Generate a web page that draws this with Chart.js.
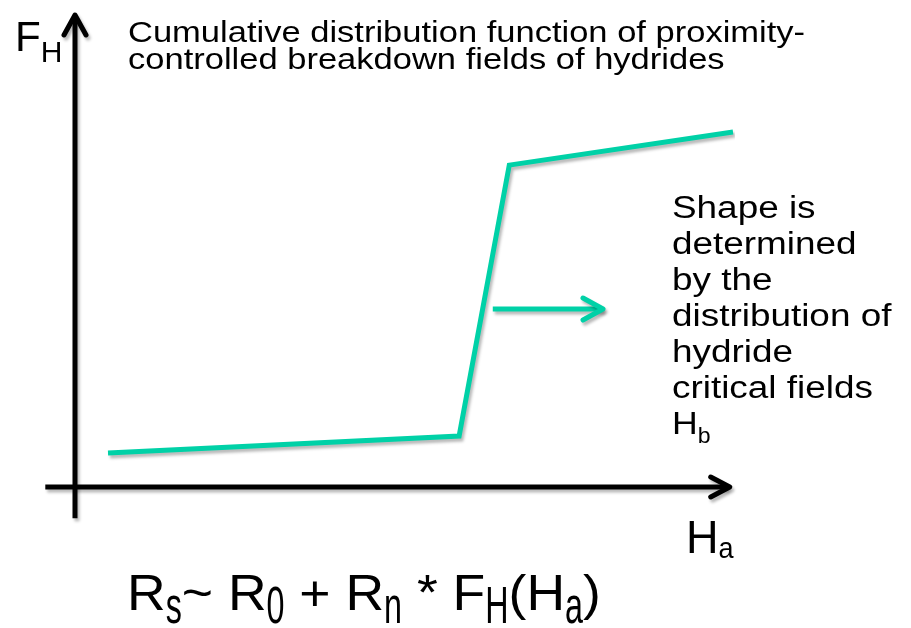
<!DOCTYPE html>
<html>
<head>
<meta charset="utf-8">
<script src="https://cdn.jsdelivr.net/npm/chart.js@4.4.1/dist/chart.umd.min.js"></script>
<style>
  html, body { margin: 0; padding: 0; background: #fff; }
  #wrap { width: 911px; height: 628px; position: relative; }
</style>
</head>
<body>
<div id="wrap"><canvas id="cdfChart" width="911" height="628"></canvas></div>
<script>
// schematic CDF, applied field H_a (arbitrary units) vs F_H (0..1)
const fieldHa = [0.5, 5.82, 6.58, 9.97];
const cdfFH = [0.072, 0.108, 0.682, 0.752];

// annotation arrow pointing to the text block
const noteArrowX = [6.33, 8.0];
const noteArrowY = [0.377, 0.377];

// axis extents in data units
const xAxisRange = [-0.45, 9.92];
const yAxisRange = [-0.066, 1.0];

const titleLines = ['Cumulative distribution function of proximity-', 'controlled breakdown fields of hydrides'];
const noteLines = ['Shape is', 'determined', 'by the', 'distribution of', 'hydride', 'critical fields'];

const teal = '#00D1A7';

function chevron(ctx, x, y, back, half) {
    ctx.beginPath();
    ctx.moveTo(x - back, y - half);
    ctx.lineTo(x, y);
    ctx.lineTo(x - back, y + half);
    ctx.stroke();
}

function shadowOn(ctx) {
    ctx.shadowColor = 'rgba(0,0,0,0.28)';
    ctx.shadowBlur = 3;
    ctx.shadowOffsetX = 2;
    ctx.shadowOffsetY = 3;
}

// pieces: [text, size, dy, sx, sy] drawn one after another from (x, y)
function drawRun(ctx, x, y, pieces) {
    let cx = x;
    pieces.forEach(p => {
        const sx = p[3] || 1, sy = p[4] || 1;
        ctx.save();
        ctx.font = p[1] + 'px "Liberation Sans", Arial, sans-serif';
        ctx.translate(cx, y + (p[2] || 0));
        ctx.scale(sx, sy);
        ctx.fillText(p[0], 0, 0);
        cx += ctx.measureText(p[0]).width * sx;
        ctx.restore();
    });
}

const axesPlugin = {
    id: 'schematicAxes',
    beforeDatasetsDraw(chart) {
        const ctx = chart.ctx;
        const xs = chart.scales.x, ys = chart.scales.y;
        const x0 = xs.getPixelForValue(0), y0 = ys.getPixelForValue(0);
        ctx.save();
        shadowOn(ctx);
        ctx.strokeStyle = '#000';
        ctx.lineWidth = 5;
        ctx.lineCap = 'butt';
        // y axis
        ctx.beginPath();
        ctx.moveTo(x0, ys.getPixelForValue(yAxisRange[0]));
        ctx.lineTo(x0, ys.getPixelForValue(yAxisRange[1]) + 2);
        ctx.stroke();
        // x axis
        ctx.beginPath();
        ctx.moveTo(xs.getPixelForValue(xAxisRange[0]), y0);
        ctx.lineTo(xs.getPixelForValue(xAxisRange[1]) - 2, y0);
        ctx.stroke();
        ctx.lineCap = 'round';
        ctx.lineJoin = 'round';
        // arrow heads
        ctx.save();
        ctx.translate(x0, ys.getPixelForValue(yAxisRange[1]));
        ctx.rotate(-Math.PI / 2);
        chevron(ctx, 0, 0, 20, 11);
        ctx.restore();
        chevron(ctx, xs.getPixelForValue(xAxisRange[1]), y0, 19, 10);
        ctx.restore();
    },
    afterDatasetsDraw(chart) {
        const ctx = chart.ctx;
        const xs = chart.scales.x, ys = chart.scales.y;
        // annotation arrow head
        ctx.save();
        shadowOn(ctx);
        ctx.strokeStyle = teal;
        ctx.lineWidth = 5;
        ctx.lineCap = 'round';
        ctx.lineJoin = 'round';
        chevron(ctx, xs.getPixelForValue(noteArrowX[1]), ys.getPixelForValue(noteArrowY[1]), 20, 11);
        ctx.restore();

        // texts
        ctx.save();
        ctx.fillStyle = '#000';
        ctx.textBaseline = 'alphabetic';
        drawRun(ctx, 15, 51, [['F', 43, 0, 0.98], ['H', 30, 11, 1.0]]);
        drawRun(ctx, 128, 42, [[titleLines[0], 29, 0, 1.19]]);
        drawRun(ctx, 128, 69, [[titleLines[1], 29, 0, 1.19]]);
        noteLines.forEach((t, i) => drawRun(ctx, 672, 218 + i * 36, [[t, 31, 0, 1.19]]));
        drawRun(ctx, 672, 218 + 6 * 36, [['H', 31, 0, 1.15], ['b', 22, 9, 1.05]]);
        drawRun(ctx, 686, 553, [['H', 46, 0, 0.98], ['a', 30, 5, 0.9]]);
        const m = 50, msx = 1.07, s = 38, ssx = 0.85, ssy = 1.35, sdy = 13;
        drawRun(ctx, 127, 610, [['R', m, 0, msx], ['s', s, sdy, ssx, ssy], ['~ R', m, 0, msx], ['0', s, sdy, ssx, ssy],
            [' + R', m, 0, msx], ['n', s, sdy, ssx, ssy], [' * F', m, 0, msx], ['H', s, sdy, ssx, ssy],
            ['(H', m, 0, msx], ['a', s, sdy, ssx, ssy], [')', m, 0, msx]]);
        ctx.restore();
    }
};

new Chart(document.getElementById('cdfChart'), {
    type: 'line',
    data: {
        datasets: [{
            label: 'F_H',
            data: fieldHa.map((v, i) => ({ x: v, y: cdfFH[i] })),
            borderColor: teal,
            borderWidth: 5,
            pointRadius: 0,
            tension: 0,
            fill: false
        }, {
            label: 'note arrow',
            data: noteArrowX.map((v, i) => ({ x: v, y: noteArrowY[i] })),
            borderColor: teal,
            borderWidth: 5,
            pointRadius: 0,
            fill: false
        }]
    },
    options: {
        responsive: false,
        animation: false,
        layout: { padding: { left: 75, right: 176, top: 15, bottom: 141 } },
        scales: {
            x: { type: 'linear', min: 0, max: 10, display: false },
            y: { type: 'linear', min: 0, max: 1, display: false }
        },
        plugins: {
            legend: { display: false },
            tooltip: { enabled: false }
        }
    },
    plugins: [{
        id: 'lineShadow',
        beforeDatasetDraw(chart) { chart.ctx.save(); shadowOn(chart.ctx); },
        afterDatasetDraw(chart) { chart.ctx.restore(); }
    }, axesPlugin]
});
</script>
</body>
</html>
